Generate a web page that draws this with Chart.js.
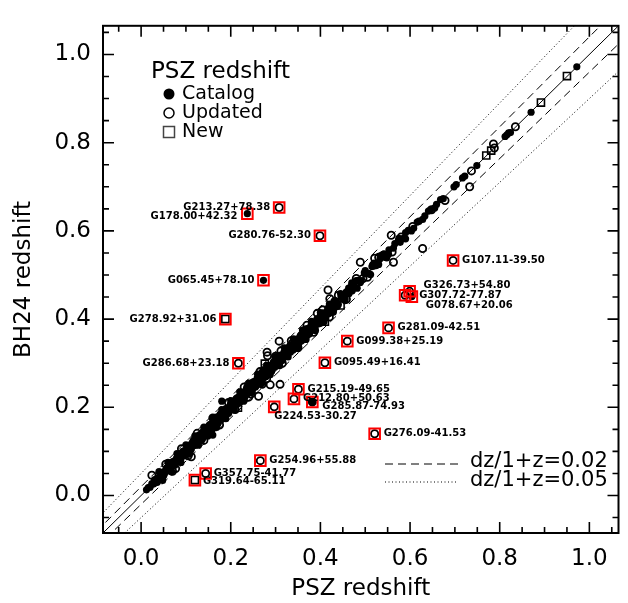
<!DOCTYPE html>
<html>
<head>
<meta charset="utf-8">
<script src="https://cdn.jsdelivr.net/npm/chart.js"></script>
<style>
html, body { margin: 0; padding: 0; background: #fff; }
</style>
</head>
<body>
<canvas id="myChart" width="628" height="603"></canvas>
<script>
// axis range and ticks
const axisMin = -0.085
const axisMax = 1.065
const majorTicks = [0.0, 0.2, 0.4, 0.6, 0.8, 1.0]
const minorTicks = [-0.05, 0.05, 0.1, 0.15, 0.25, 0.3, 0.35, 0.45, 0.5, 0.55, 0.65, 0.7, 0.75, 0.85, 0.9, 0.95, 1.05]

// reference lines: dz/(1+z)
const lineX = [-0.1, 1.1]
const dzDashed = 0.02
const dzDotted = 0.05

// Catalog redshift (filled circles)
const catalogX = [0.012, 0.016, 0.020, 0.024, 0.028, 0.031, 0.034, 0.037, 0.040, 0.043, 0.046, 0.049, 0.052, 0.055, 0.058,
  0.061, 0.064, 0.067, 0.070, 0.073, 0.076, 0.079, 0.082, 0.085, 0.088, 0.091, 0.094, 0.097, 0.100, 0.103, 0.106, 0.109,
  0.112, 0.115, 0.118, 0.121, 0.124, 0.127, 0.130, 0.133, 0.136, 0.139, 0.142, 0.145, 0.148, 0.151, 0.154, 0.157, 0.160,
  0.163, 0.166, 0.169, 0.172, 0.175, 0.178, 0.181, 0.184, 0.187, 0.190, 0.193, 0.196, 0.199, 0.202, 0.205, 0.208, 0.211,
  0.214, 0.217, 0.220, 0.223, 0.226, 0.229, 0.232, 0.235, 0.238, 0.241, 0.244, 0.247, 0.250, 0.253, 0.256, 0.259, 0.262,
  0.265, 0.268, 0.271, 0.274, 0.277, 0.280, 0.283, 0.286, 0.289, 0.292, 0.295, 0.298, 0.301, 0.304, 0.307, 0.310, 0.313,
  0.316, 0.319, 0.322, 0.325, 0.328, 0.331, 0.334, 0.337, 0.340, 0.343, 0.346, 0.349, 0.352, 0.355, 0.358, 0.361, 0.364,
  0.367, 0.370, 0.373, 0.376, 0.379, 0.382, 0.385, 0.388, 0.392, 0.396, 0.400, 0.404, 0.408, 0.412, 0.416, 0.420, 0.425,
  0.430, 0.435, 0.440, 0.446, 0.452, 0.458, 0.464, 0.470, 0.477, 0.484, 0.491, 0.499, 0.507, 0.515, 0.524, 0.533, 0.543,
  0.553, 0.563, 0.574, 0.585, 0.596, 0.608, 0.620, 0.633, 0.646, 0.659, 0.674, 0.698, 0.703, 0.717, 0.722, 0.749, 0.812,
  0.816, 0.820, 0.824, 0.870, 0.972,
  0.030, 0.036, 0.044, 0.050, 0.057, 0.063, 0.069, 0.075, 0.081, 0.087, 0.093, 0.099, 0.105, 0.111, 0.117, 0.123, 0.129,
  0.135, 0.141, 0.147, 0.153, 0.159, 0.165, 0.171, 0.177, 0.183, 0.189, 0.195, 0.201, 0.207, 0.213, 0.219, 0.225, 0.231,
  0.237, 0.243, 0.249, 0.255, 0.261, 0.267, 0.273, 0.279, 0.285, 0.291, 0.297, 0.303, 0.309, 0.315, 0.321, 0.327, 0.333,
  0.339, 0.345, 0.351, 0.357, 0.363, 0.369, 0.375, 0.381, 0.387, 0.393, 0.399, 0.405, 0.411, 0.418, 0.424, 0.432, 0.438,
  0.447, 0.455, 0.463, 0.471, 0.480, 0.489, 0.498, 0.509, 0.520, 0.530, 0.542, 0.552, 0.566, 0.578, 0.590, 0.603, 0.616,
  0.628, 0.641, 0.655, 0.668,
  0.040, 0.048, 0.060, 0.068, 0.080, 0.089, 0.100, 0.108, 0.120, 0.128, 0.140, 0.149, 0.160, 0.168, 0.180, 0.189, 0.200,
  0.208, 0.220, 0.229, 0.240, 0.248, 0.260, 0.269, 0.280, 0.288, 0.300, 0.309, 0.320, 0.328, 0.340, 0.349, 0.360, 0.368,
  0.380, 0.389, 0.400, 0.408, 0.420, 0.429, 0.445, 0.455, 0.470, 0.482, 0.500, 0.512, 0.535, 0.548, 0.575, 0.590,
  0.180, 0.160, 0.237, 0.273, 0.604, 0.382]
const catalogY = [0.013, 0.018, 0.019, 0.027, 0.026, 0.034, 0.031, 0.040, 0.037, 0.046, 0.044, 0.053, 0.049, 0.058, 0.055,
  0.066, 0.060, 0.071, 0.066, 0.078, 0.072, 0.084, 0.079, 0.090, 0.083, 0.097, 0.089, 0.102, 0.095, 0.108, 0.101, 0.115,
  0.106, 0.121, 0.113, 0.127, 0.118, 0.134, 0.124, 0.139, 0.131, 0.146, 0.136, 0.151, 0.142, 0.158, 0.147, 0.163, 0.153,
  0.170, 0.159, 0.175, 0.165, 0.182, 0.171, 0.187, 0.177, 0.194, 0.183, 0.199, 0.189, 0.206, 0.195, 0.211, 0.201, 0.218,
  0.207, 0.223, 0.213, 0.230, 0.219, 0.235, 0.225, 0.242, 0.231, 0.247, 0.237, 0.254, 0.243, 0.259, 0.249, 0.266, 0.255,
  0.271, 0.261, 0.278, 0.267, 0.283, 0.273, 0.290, 0.279, 0.295, 0.285, 0.302, 0.291, 0.307, 0.297, 0.314, 0.303, 0.319,
  0.309, 0.326, 0.315, 0.331, 0.321, 0.338, 0.327, 0.343, 0.333, 0.350, 0.339, 0.355, 0.345, 0.362, 0.351, 0.367, 0.357,
  0.374, 0.363, 0.379, 0.369, 0.386, 0.375, 0.391, 0.381, 0.399, 0.389, 0.406, 0.397, 0.414, 0.404, 0.422, 0.413, 0.431,
  0.423, 0.440, 0.433, 0.451, 0.446, 0.462, 0.458, 0.475, 0.472, 0.488, 0.487, 0.503, 0.503, 0.519, 0.521, 0.537, 0.540,
  0.557, 0.561, 0.578, 0.583, 0.601, 0.606, 0.622, 0.634, 0.648, 0.660, 0.673, 0.700, 0.705, 0.720, 0.724, 0.748, 0.814,
  0.818, 0.822, 0.823, 0.869, 0.972,
  0.036, 0.030, 0.050, 0.044, 0.063, 0.057, 0.076, 0.068, 0.088, 0.080, 0.100, 0.092, 0.112, 0.103, 0.124, 0.115, 0.137,
  0.127, 0.149, 0.139, 0.161, 0.150, 0.173, 0.162, 0.185, 0.174, 0.197, 0.186, 0.209, 0.198, 0.221, 0.210, 0.233, 0.222,
  0.245, 0.234, 0.257, 0.246, 0.269, 0.258, 0.281, 0.270, 0.293, 0.282, 0.305, 0.294, 0.317, 0.306, 0.329, 0.318, 0.341,
  0.330, 0.353, 0.342, 0.365, 0.354, 0.377, 0.366, 0.389, 0.378, 0.401, 0.390, 0.413, 0.402, 0.426, 0.415, 0.439, 0.429,
  0.455, 0.447, 0.470, 0.464, 0.487, 0.483, 0.505, 0.503, 0.527, 0.524, 0.548, 0.547, 0.571, 0.574, 0.596, 0.600, 0.620,
  0.626, 0.645, 0.652, 0.671,
  0.054, 0.034, 0.075, 0.054, 0.095, 0.075, 0.115, 0.094, 0.135, 0.114, 0.155, 0.135, 0.175, 0.154, 0.195, 0.174, 0.215,
  0.194, 0.235, 0.214, 0.255, 0.234, 0.275, 0.254, 0.295, 0.274, 0.315, 0.294, 0.335, 0.314, 0.355, 0.334, 0.375, 0.354,
  0.395, 0.374, 0.415, 0.394, 0.434, 0.416, 0.458, 0.442, 0.482, 0.470, 0.510, 0.501, 0.544, 0.539, 0.583, 0.582,
  0.214, 0.137, 0.639, 0.488, 0.451, 0.212]

// Updated redshift (open circles)
const updatedX = [0.045, 0.062, 0.083, 0.097, 0.118, 0.135, 0.150, 0.168, 0.185, 0.203, 0.221, 0.238, 0.255, 0.272, 0.290,
  0.305, 0.322, 0.338, 0.353, 0.368, 0.385, 0.402, 0.418, 0.432, 0.450, 0.472, 0.495, 0.518, 0.540, 0.580, 0.606, 0.648,
  0.678, 0.737, 0.786, 0.788, 0.835,
  0.055, 0.070, 0.090, 0.105, 0.125, 0.140, 0.160, 0.175, 0.195, 0.210, 0.230, 0.245, 0.265, 0.280, 0.300, 0.315, 0.335,
  0.350, 0.370, 0.385, 0.405, 0.420, 0.440, 0.458, 0.480, 0.505, 0.530, 0.560,
  0.024, 0.077, 0.112, 0.240, 0.262, 0.270, 0.288, 0.310, 0.281, 0.282, 0.312, 0.308, 0.393, 0.417, 0.421, 0.489, 0.521,
  0.563, 0.558, 0.628, 0.733,
  0.308, 0.399, 0.217, 0.696, 0.599, 0.589, 0.552, 0.460, 0.410, 0.351, 0.341, 0.382, 0.297, 0.521, 0.266, 0.144]
const updatedY = [0.043, 0.064, 0.080, 0.096, 0.124, 0.128, 0.152, 0.176, 0.180, 0.209, 0.216, 0.246, 0.250, 0.280, 0.284,
  0.312, 0.318, 0.346, 0.350, 0.376, 0.380, 0.410, 0.414, 0.440, 0.448, 0.478, 0.492, 0.522, 0.545, 0.586, 0.610, 0.648,
  0.669, 0.736, 0.797, 0.788, 0.836,
  0.071, 0.055, 0.106, 0.090, 0.141, 0.125, 0.176, 0.160, 0.211, 0.195, 0.246, 0.230, 0.281, 0.265, 0.316, 0.300, 0.351,
  0.335, 0.386, 0.370, 0.421, 0.405, 0.454, 0.445, 0.492, 0.495, 0.540, 0.552,
  0.046, 0.061, 0.088, 0.223, 0.225, 0.252, 0.251, 0.252, 0.325, 0.317, 0.328, 0.350, 0.413, 0.466, 0.446, 0.529, 0.538,
  0.529, 0.590, 0.560, 0.700,
  0.653, 0.589, 0.300, 0.533, 0.463, 0.454, 0.380, 0.350, 0.301, 0.241, 0.219, 0.212, 0.201, 0.140, 0.079, 0.050]

// New redshift (open squares)
const newX = [0.126, 0.216, 0.276, 0.330, 0.410, 0.445, 0.770, 0.781, 0.892, 0.950, 0.188, 0.120]
const newY = [0.130, 0.199, 0.299, 0.328, 0.394, 0.431, 0.771, 0.782, 0.891, 0.951, 0.400, 0.035]

// outliers marked with red squares
const outlierNames = ["G213.27+78.38", "G178.00+42.32", "G280.76-52.30", "G065.45+78.10", "G278.92+31.06",
  "G286.68+23.18", "G107.11-39.50", "G326.73+54.80", "G307.72-77.87", "G078.67+20.06", "G281.09-42.51",
  "G099.38+25.19", "G095.49+16.41", "G215.19-49.65", "G212.80+50.63", "G285.87-74.93", "G224.53-30.27",
  "G276.09-41.53", "G254.96+55.88", "G357.75-41.77", "G319.64-65.11"]
const outlierX = [0.308, 0.237, 0.399, 0.273, 0.188, 0.217, 0.696, 0.599, 0.589, 0.604, 0.552, 0.460, 0.410, 0.351,
  0.341, 0.382, 0.297, 0.521, 0.266, 0.144, 0.120]
const outlierY = [0.653, 0.639, 0.589, 0.488, 0.400, 0.300, 0.533, 0.463, 0.454, 0.451, 0.380, 0.350, 0.301, 0.241,
  0.219, 0.212, 0.201, 0.140, 0.079, 0.050, 0.035]

// where each name goes relative to its square (pixels)
const labelPlacement = [[-9, 0, "right"], [-10, 3, "right"], [-9, 0, "right"], [-9, 0, "right"], [-9, 0, "right"],
  [-9, 0, "right"], [9, 0, "left"], [14, -6, "left"], [14, 0, "left"], [14, 9, "left"], [9, -1, "left"],
  [9, 0, "left"], [9, 0, "left"], [9, 0, "left"], [9, -1, "left"], [10, 4, "left"], [0, 10, "left"],
  [9, 0, "left"], [9, 0, "left"], [8, 0, "left"], [8, 1, "left"]]

const FONT = "DejaVu Sans"

function toPoints(xs, ys) {
    return xs.map((x, i) => ({ x: x, y: ys[i] }))
}

function offsetLine(dz, sign) {
    return lineX.map(x => ({ x: x, y: x + sign * dz * (1 + x) }))
}

///DIBUJAR MARCO, TICKS, LEYENDAS Y ETIQUETAS
const decorPlugin = {
    id: "decor",
    afterDraw(chart) {
        const ctx = chart.ctx
        const area = chart.chartArea
        const xs = chart.scales.x
        const ys = chart.scales.y
        ctx.save()
        ctx.strokeStyle = "#000"
        ctx.lineWidth = 2
        ctx.strokeRect(area.left, area.top, area.right - area.left, area.bottom - area.top)

        const drawTicks = (vals, len) => {
            ctx.beginPath()
            for (let v of vals) {
                const px = xs.getPixelForValue(v)
                ctx.moveTo(px, area.bottom); ctx.lineTo(px, area.bottom - len)
                ctx.moveTo(px, area.top); ctx.lineTo(px, area.top + len)
                const py = ys.getPixelForValue(v)
                ctx.moveTo(area.left, py); ctx.lineTo(area.left + len, py)
                ctx.moveTo(area.right, py); ctx.lineTo(area.right - len, py)
            }
            ctx.stroke()
        }
        ctx.lineWidth = 1.6
        drawTicks(majorTicks, 11)
        drawTicks(minorTicks, 6)

        // outlier names
        ctx.fillStyle = "#000"
        ctx.font = "bold 10px " + FONT
        ctx.textBaseline = "middle"
        outlierNames.forEach((name, i) => {
            const p = labelPlacement[i]
            ctx.textAlign = p[2]
            ctx.fillText(name, xs.getPixelForValue(outlierX[i]) + p[0], ys.getPixelForValue(outlierY[i]) + p[1])
        })

        // symbol legend
        ctx.textAlign = "left"
        ctx.font = "23px " + FONT
        ctx.fillText("PSZ redshift", 151, 72)
        ctx.font = "19px " + FONT
        ctx.fillText("Catalog", 182, 94)
        ctx.fillText("Updated", 182, 113)
        ctx.fillText("New", 182, 132)
        ctx.beginPath(); ctx.arc(169, 94, 5.5, 0, 2 * Math.PI); ctx.fill()
        ctx.lineWidth = 1.5
        ctx.beginPath(); ctx.arc(169, 113, 5, 0, 2 * Math.PI); ctx.stroke()
        ctx.strokeStyle = "#444"
        ctx.strokeRect(163.5, 126.5, 11, 11)

        // line legend
        ctx.strokeStyle = "#000"
        ctx.lineWidth = 1
        ctx.setLineDash([8, 5])
        ctx.beginPath(); ctx.moveTo(385, 464); ctx.lineTo(458, 464); ctx.stroke()
        ctx.setLineDash([1, 2.5])
        ctx.beginPath(); ctx.moveTo(385, 482); ctx.lineTo(458, 482); ctx.stroke()
        ctx.setLineDash([])
        ctx.font = "21px " + FONT
        ctx.fillText("dz/1+z=0.02", 470, 462)
        ctx.fillText("dz/1+z=0.05", 470, 481)
        ctx.restore()
    }
}

const lineStyle = { showLine: true, pointRadius: 0, borderColor: "#000", borderWidth: 1, fill: false }

const config = {
    type: "scatter",
    data: {
        datasets: [
            { ...lineStyle, data: toPoints(lineX, lineX), order: 10 },
            { ...lineStyle, data: offsetLine(dzDashed, 1), borderDash: [8, 5], order: 10 },
            { ...lineStyle, data: offsetLine(dzDashed, -1), borderDash: [8, 5], order: 10 },
            { ...lineStyle, data: offsetLine(dzDotted, 1), borderDash: [1, 2.5], order: 10 },
            { ...lineStyle, data: offsetLine(dzDotted, -1), borderDash: [1, 2.5], order: 10 },
            {
                data: toPoints(updatedX, updatedY), pointStyle: "circle", pointRadius: 3.6,
                backgroundColor: "rgba(255,255,255,0)", borderColor: "#000", borderWidth: 1.8, order: 4
            },
            {
                data: toPoints(newX, newY), pointStyle: "rect", pointRadius: 5,
                backgroundColor: "rgba(255,255,255,0)", borderColor: "#000", borderWidth: 1.6, order: 3
            },
            {
                data: toPoints(catalogX, catalogY), pointStyle: "circle", pointRadius: 3.6,
                backgroundColor: "#000", borderColor: "#000", borderWidth: 0, order: 2
            },
            {
                data: toPoints(outlierX, outlierY), pointStyle: "rect", pointRadius: 7.5,
                backgroundColor: "rgba(0,0,0,0)", borderColor: "#ff0000", borderWidth: 2, order: 1
            }
        ]
    },
    options: {
        responsive: false,
        animation: false,
        events: [],
        layout: { padding: { top: 13, right: 6, left: 0, bottom: 0 } },
        plugins: { legend: { display: false }, tooltip: { enabled: false } },
        scales: {
            x: {
                type: "linear", min: axisMin, max: axisMax,
                afterBuildTicks: s => { s.ticks = majorTicks.map(v => ({ value: v })) },
                afterFit: s => { s.height = 70 },
                grid: { display: false, drawTicks: false },
                border: { display: false },
                ticks: { color: "#000", font: { family: FONT, size: 23 }, padding: 12, maxRotation: 0, autoSkip: false,
                    callback: v => v.toFixed(1) },
                title: { display: true, text: "PSZ redshift", color: "#000", font: { family: FONT, size: 23 },
                    padding: { top: 0, bottom: 0 } }
            },
            y: {
                type: "linear", min: axisMin, max: axisMax,
                afterBuildTicks: s => { s.ticks = majorTicks.map(v => ({ value: v })) },
                afterFit: s => { s.width = 103 },
                grid: { display: false, drawTicks: false },
                border: { display: false },
                ticks: { color: "#000", font: { family: FONT, size: 23 }, padding: 12, autoSkip: false,
                    callback: v => v.toFixed(1) },
                title: { display: true, text: "BH24 redshift", color: "#000", font: { family: FONT, size: 23 },
                    padding: { top: 10, bottom: 0 } }
            }
        }
    },
    plugins: [decorPlugin]
}

new Chart(document.getElementById("myChart"), config)
</script>
</body>
</html>
